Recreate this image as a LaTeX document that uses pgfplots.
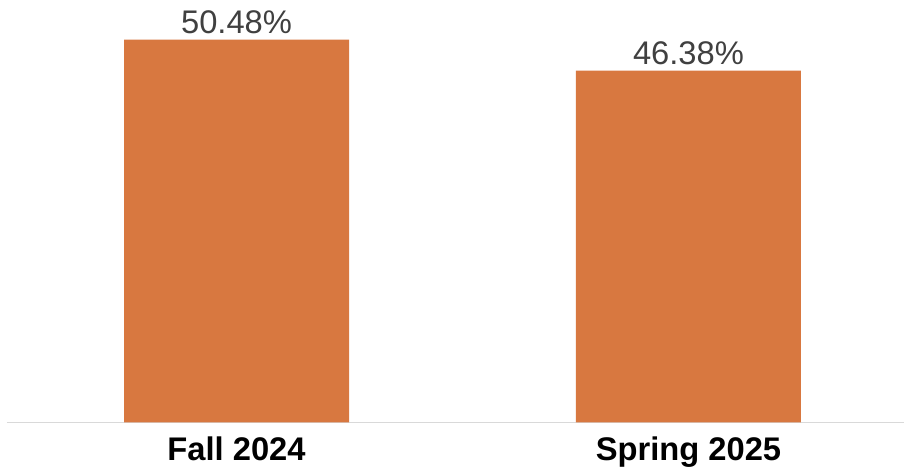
\documentclass[border=0pt]{standalone}
\usepackage{pgfplots}
\pgfplotsset{compat=1.18}
\usepackage{fontspec}
\setmainfont{Liberation Sans}
\definecolor{barorange}{RGB}{216,120,64}
\definecolor{labelgray}{RGB}{64,64,64}
\definecolor{axisgray}{RGB}{217,217,217}
\begin{document}
\begin{tikzpicture}
\begin{axis}[
  at={(0,0)}, anchor=south west,
  scale only axis,
  width=448.5pt, height=211.25pt,
  xmin=-0.508, xmax=1.477,
  ymin=0, ymax=55.69,
  axis x line=bottom,
  axis y line=none,
  x axis line style={-, draw=axisgray, line width=0.8pt},
  xtick={0,1},
  xticklabels={Fall 2024, Spring 2025},
  major tick length=0pt,
  xticklabel style={anchor=base, yshift=-19.25pt, font=\fontsize{16.35}{19}\selectfont\bfseries, text=black},
  ytick=\empty,
  clip=false,
  point meta=explicit symbolic,
  nodes near coords,
  every node near coord/.append style={anchor=base, yshift=3pt, font=\fontsize{16.35}{19}\selectfont, text=labelgray},
]
\addplot[ybar, bar width=112.5pt, fill=barorange, draw=none] coordinates {
  (0,50.48) [50.48\%]
  (1,46.38) [46.38\%]
};
\end{axis}
\pgfresetboundingbox
\path[use as bounding box] (-3.5pt,-26.25pt) rectangle (448.5pt,211.25pt);
\end{tikzpicture}
\end{document}
